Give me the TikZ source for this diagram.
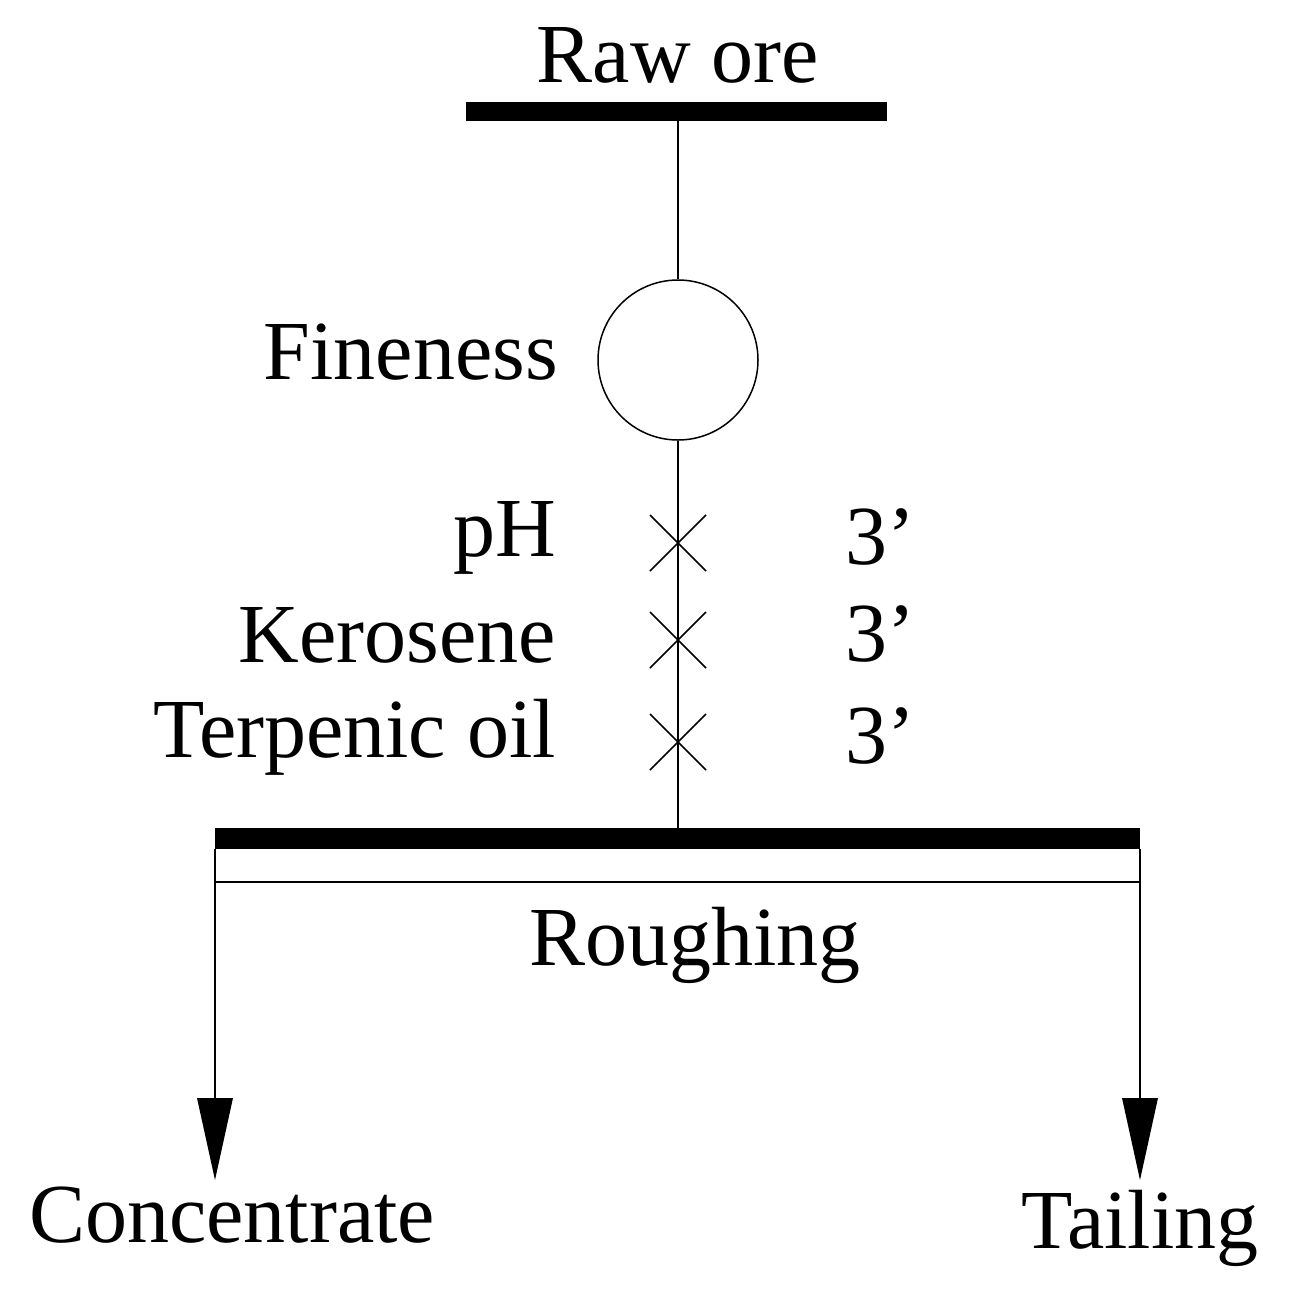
\documentclass[tikz,border=0pt]{standalone}
\usepackage{fontspec}
\setmainfont{Liberation Serif}
\begin{document}
\begin{tikzpicture}[x=1pt,y=-1pt,
  lbl/.style={inner sep=0pt,font=\fontsize{84}{90}\selectfont},
  thin/.style={line width=1.5pt},
  tip/.style={fill=black}]
\useasboundingbox (0,0) rectangle (1289,1296);
\fill (466,102) rectangle (887,121);
\node[lbl] (raw) at (678,55) {Raw ore};
\node[draw,circle,thin,minimum size=160pt,inner sep=0pt] (c) at (678,360) {};
\coordinate (t) at (678,121);
\coordinate (b) at (678,828);
\draw[thin] (t) -- (c.north);
\draw[thin] (c.south) -- (b);
\node[lbl,anchor=east] (fin) at (558,352) {Fineness};
\foreach \y/\t [count=\i] in {543/pH,640/Kerosene,742/Terpenic oil}{
  \draw[thin] (650,\y-28) -- (706,\y+28) (650,\y+28) -- (706,\y-28);
  \node[lbl,anchor=east] (r\i) at (556,\y-5) {\t};
  \node[lbl] (p\i) at (880,\y-6) {3'};
}
\fill (215,828) rectangle (1140,849);
\draw[thin] (215,849) -- (215,882) -- (1140,882) -- (1140,849);
\node[lbl] (rough) at (695,945) {Roughing};
\coordinate (l1) at (215,882);
\coordinate (l2) at (1140,882);
\draw[thin] (l1) -- (215,1100);
\draw[thin] (l2) -- (1140,1100);
\fill (197,1098) -- (233,1098) -- (215,1180) -- cycle;
\fill (1122,1098) -- (1158,1098) -- (1140,1180) -- cycle;
\node[lbl] (conc) at (232,1215) {Concentrate};
\node[lbl] (tail) at (1140,1228) {Tailing};
\end{tikzpicture}
\end{document}
